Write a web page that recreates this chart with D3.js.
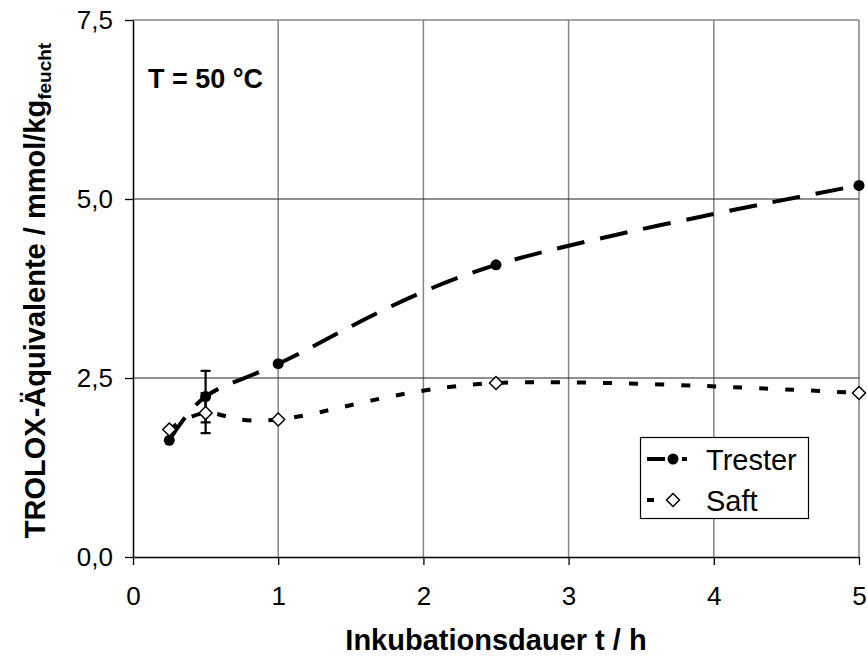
<!DOCTYPE html>
<html><head><meta charset="utf-8">
<script src="https://cdn.jsdelivr.net/npm/d3@7"></script>
<style>body{margin:0;background:#fff;} svg{display:block;font-family:"Liberation Sans",Arial,sans-serif;}</style>
</head><body>
<svg id="c" width="867" height="658"></svg>
<script>
const hours = [0.25, 0.5, 1, 2.5, 5];
const trester = [1.63, 2.24, 2.70, 4.08, 5.19];
const saft = [1.78, 2.01, 1.92, 2.43, 2.29];
const tresterErr = [0, 0.36, 0, 0, 0];
const saftErr = [0, 0.28, 0, 0, 0];
const xTicks = [0, 1, 2, 3, 4, 5];
const yTicks = [0, 2.5, 5, 7.5];
const seriesNames = ["Trester", "Saft"];

const svg = d3.select("#c");
const L = 133, R = 859, T = 20, B = 557;
const x = d3.scaleLinear().domain([0, 5]).range([L, R]);
const y = d3.scaleLinear().domain([0, 7.5]).range([B, T]);
const fmt = d3.format(".1f");

// gridlines
svg.append("g").selectAll("line").data(xTicks.filter(d => d > 0)).join("line")
  .attr("x1", d => x(d)).attr("x2", d => x(d)).attr("y1", T).attr("y2", B)
  .attr("stroke", "#858585").attr("stroke-width", 1.5);
svg.append("g").selectAll("line").data(yTicks.filter(d => d > 0 && d < 7.5)).join("line")
  .attr("x1", L).attr("x2", R).attr("y1", d => y(d)).attr("y2", d => y(d))
  .attr("stroke", "#222").attr("stroke-width", 1.2);
svg.append("line").attr("x1", L).attr("x2", R).attr("y1", y(7.5)).attr("y2", y(7.5))
  .attr("stroke", "#858585").attr("stroke-width", 1.5);

// axes
const xAxis = svg.append("g").attr("transform", `translate(0,${B})`)
  .call(d3.axisBottom(x).tickValues(xTicks).tickSize(8).tickPadding(22).tickSizeOuter(0)
    .tickFormat(d3.format("d")));
const yAxis = svg.append("g").attr("transform", `translate(${L},0)`)
  .call(d3.axisLeft(y).tickValues(yTicks).tickSize(8).tickPadding(12).tickSizeOuter(0)
    .tickFormat(d => fmt(d).replace(".", ",")));
[xAxis, yAxis].forEach(a => {
  a.select(".domain").attr("stroke", "#000").attr("stroke-width", 1.5);
  a.selectAll(".tick line").attr("stroke", "#000").attr("stroke-width", 1.3);
  a.selectAll("text").attr("font-size", 26).attr("fill", "#000").attr("font-family", "Liberation Sans, Arial, sans-serif");
});
xAxis.selectAll("text").attr("dy", "0.71em");

// error bars
function errBars(vals, errs) {
  const g = svg.append("g").attr("stroke", "#000").attr("stroke-width", 2.2);
  hours.forEach((h, i) => {
    if (!errs[i]) return;
    const cx = x(h), y1 = y(vals[i] + errs[i]), y2 = y(vals[i] - errs[i]);
    g.append("line").attr("x1", cx).attr("x2", cx).attr("y1", y1).attr("y2", y2);
    g.append("line").attr("x1", cx - 5).attr("x2", cx + 5).attr("y1", y1).attr("y2", y1);
    g.append("line").attr("x1", cx - 5).attr("x2", cx + 5).attr("y1", y2).attr("y2", y2);
  });
}
errBars(trester, tresterErr);
errBars(saft, saftErr);

const line = d3.line().x(d => x(d[0])).y(d => y(d[1])).curve(d3.curveCatmullRom.alpha(0));
svg.append("path").datum(hours.map((h, i) => [h, trester[i]]))
  .attr("d", line).attr("fill", "none").attr("stroke", "#000").attr("stroke-width", 4)
  .attr("stroke-dasharray", "28,16");
svg.append("path").datum(hours.map((h, i) => [h, saft[i]]))
  .attr("d", line).attr("fill", "none").attr("stroke", "#000").attr("stroke-width", 4)
  .attr("stroke-dasharray", "9,17");

const diamond = s => `M0,${-s}L${s},0L0,${s}L${-s},0Z`;
svg.append("g").selectAll("circle").data(hours).join("circle")
  .attr("cx", d => x(d)).attr("cy", (d, i) => y(trester[i])).attr("r", 5.5).attr("fill", "#000");
svg.append("g").selectAll("path").data(hours).join("path")
  .attr("transform", (d, i) => `translate(${x(d)},${y(saft[i])})`)
  .attr("d", diamond(6.5)).attr("fill", "#fff").attr("stroke", "#000").attr("stroke-width", 1.5);

// annotation
svg.append("text").attr("x", 148).attr("y", 88).attr("font-size", 27).attr("font-weight", "bold")
  .text("T = 50 °C");

// axis titles
svg.append("text").attr("x", (L + R) / 2).attr("y", 650).attr("text-anchor", "middle")
  .attr("font-size", 29).attr("font-weight", "bold").text("Inkubationsdauer t / h");
const yt = svg.append("text").attr("transform", `translate(45,${(T + B) / 2 + 2}) rotate(-90)`)
  .attr("text-anchor", "middle").attr("font-size", 29).attr("font-weight", "bold");
yt.append("tspan").text("TROLOX-Äquivalente / mmol/kg");
yt.append("tspan").attr("font-size", 19).attr("dy", 6).text("feucht");

// legend
const lg = svg.append("g");
lg.append("rect").attr("x", 640.5).attr("y", 437.5).attr("width", 168).attr("height", 81)
  .attr("fill", "#fff").attr("stroke", "#000").attr("stroke-width", 1.2);
const rows = [
  {name: seriesNames[0], y: 459, dash: "18,9,0,8,5", marker: "circle"},
  {name: seriesNames[1], y: 500, dash: "7,23,0,25,1", marker: "diamond"}
];
rows.forEach(r => {
  lg.append("line").attr("x1", 647).attr("x2", 700).attr("y1", r.y).attr("y2", r.y)
    .attr("stroke", "#000").attr("stroke-width", 4).attr("stroke-dasharray", r.dash);
  if (r.marker === "circle") lg.append("circle").attr("cx", 673).attr("cy", r.y).attr("r", 5.5).attr("fill", "#000");
  else lg.append("path").attr("transform", `translate(673,${r.y})`).attr("d", diamond(6.5))
    .attr("fill", "#fff").attr("stroke", "#000").attr("stroke-width", 1.5);
  lg.append("text").attr("x", 706).attr("y", r.y + 11).attr("font-size", 29).text(r.name);
});
</script>
</body></html>
